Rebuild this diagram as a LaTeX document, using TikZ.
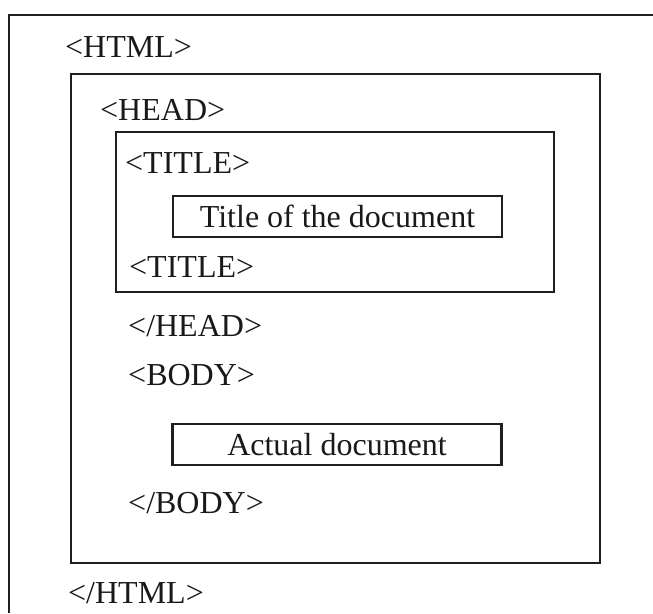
\documentclass[tikz,border=0pt]{standalone}
\usepackage{fontspec}
\setmainfont{Liberation Serif}
\begin{document}
\begin{tikzpicture}[x=1pt, y=-1pt,
  frame/.style={draw=black!88, line width=2.6pt},
  tag/.style={anchor=base west, inner sep=0pt, text=black!90, font=\fontsize{32}{38}\selectfont},
  content/.style={draw=black!88, line width=2.2pt, inner sep=0pt, text=black!90,
                  minimum width=329pt, minimum height=41pt,
                  font=\fontsize{32}{38}\selectfont}]
  \useasboundingbox (0,0) rectangle (653,613);

  % outermost page frame (only top and left edges are visible)
  \draw[frame] (653,15) -- (9,15) -- (9,613);

  % html element and its nested head block
  \draw[frame] (71,74) rectangle (600,563);
  \draw[frame] (116,132) rectangle (554,292);

  \node[tag] (htmlopen)  at (65,57)   {<HTML>};
  \node[tag] (headopen)  at (100,120) {<HEAD>};
  \node[tag] (titleopen) at (125,173) {<TITLE>};
  \node[content] (titletext) at (337.5,216.5) {Title of the document};
  \node[tag] (titleclose) at (129,277) {<TITLE>};
  \node[tag] (headclose) at (128,336) {</HEAD>};
  \node[tag] (bodyopen)  at (128,385) {<BODY>};
  \node[content] (bodytext) at (337,444.5) {Actual document};
  \node[tag] (bodyclose) at (128,513) {</BODY>};
  \node[tag] (htmlclose) at (68,603)  {</HTML>};
\end{tikzpicture}
\end{document}
